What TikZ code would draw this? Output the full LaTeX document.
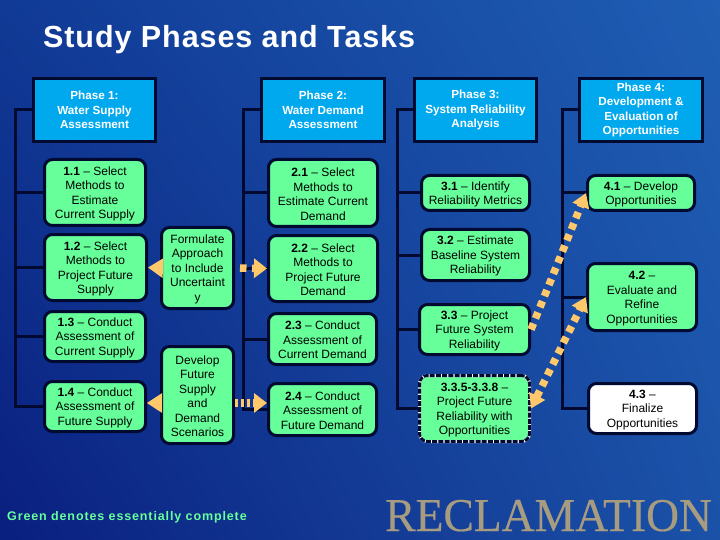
\documentclass[tikz,border=0pt]{standalone}
\usepackage{fontspec}
\setmainfont{Liberation Sans}
\newfontfamily\logofont[FakeBold=0.3]{Liberation Serif}
\newfontfamily\titlefont[LetterSpace=3]{Liberation Sans}
\newfontfamily\legendfont[LetterSpace=7]{Liberation Sans}
\usetikzlibrary{arrows.meta,shadings}
\definecolor{bgTL}{HTML}{103A95}
\definecolor{bgTR}{HTML}{1F5EB4}
\definecolor{bgBL}{HTML}{0A1F80}
\definecolor{bgBR}{HTML}{1B52A8}
\definecolor{taskgreen}{HTML}{66FF99}
\definecolor{phaseblue}{HTML}{00A8EE}
\definecolor{inkline}{HTML}{000A30}
\definecolor{linkorange}{HTML}{FFC96B}
\definecolor{logotan}{HTML}{A89C80}
\tikzset{
  anybox/.style={draw=inkline,line width=3pt,inner sep=0pt,align=center,text=black,
    font=\fontsize{12}{14.5}\selectfont},
  phasebox/.style={anybox,fill=phaseblue,text=white,
    font=\fontsize{11.7}{14.3}\selectfont\bfseries},
  taskbox/.style={anybox,fill=taskgreen,rounded corners=8pt},
  whitebox/.style={taskbox,fill=white},
  dashbox/.style={taskbox,draw=white,
    postaction={draw=inkline,line width=3pt,dash pattern=on 5pt off 1.2pt}},
  tree/.style={draw=inkline,line width=3pt},
  link/.style={draw=linkorange,line width=7.5pt,dash pattern=on 6.5pt off 5.5pt,
    -{Triangle[length=14pt,width=17pt]}},
  solidlink/.style={draw=linkorange,line width=3pt,-{Triangle[length=15pt,width=19pt]}},
  bothlink/.style={link,{Triangle[length=14pt,width=17pt]}-{Triangle[length=14pt,width=17pt]}}
}
\newcommand{\bx}[7]{%
  \pgfmathsetmacro\bxcx{(#3+#4)/2}%
  \pgfmathsetmacro\bxcy{(#5+#6)/2}%
  \pgfmathsetmacro\bxw{#4-#3-3}%
  \pgfmathsetmacro\bxh{#6-#5-3}%
  \node[#1,minimum width=\bxw pt,minimum height=\bxh pt] (#2) at (\bxcx,\bxcy) {#7};}
\newcommand{\dn}{\rule{0pt}{11pt}}
\begin{document}
\begin{tikzpicture}[x=1pt,y=-1pt]
\useasboundingbox (0,0) rectangle (720,540);
\shade[upper left=bgTL,upper right=bgTR,lower left=bgBL,lower right=bgBR] (0,0) rectangle (720,540);
\node[text=white,anchor=base west,inner sep=0pt,font=\fontsize{30.5}{30.5}\titlefont\bfseries] (title) at (43,48) {Study Phases and Tasks};
% boxes
\bx{phasebox}{p1}{32}{157}{77}{143}{Phase 1:\\Water Supply\\Assessment}
\bx{phasebox}{p2}{260}{386}{77}{143}{Phase 2:\\Water Demand\\Assessment}
\bx{phasebox}{p3}{413}{538}{77}{143}{Phase 3:\\System Reliability\\Analysis}
\bx{phasebox}{p4}{578}{704}{77}{143}{Phase 4:\\Development \&\\Evaluation of\\Opportunities}
\bx{taskbox}{t11}{43}{147}{158}{227}{\dn\textbf{1.1} -- Select\\Methods to\\Estimate\\Current Supply}
\bx{taskbox}{t12}{43}{148}{233}{302}{\dn\textbf{1.2} -- Select\\Methods to\\Project Future\\Supply}
\bx{taskbox}{t13}{43}{147}{310}{363}{\dn\textbf{1.3} -- Conduct\\Assessment of\\Current Supply}
\bx{taskbox}{t14}{43}{147}{380}{433}{\dn\textbf{1.4} -- Conduct\\Assessment of\\Future Supply}
\bx{taskbox}{fa}{160}{235}{226}{310}{\dn Formulate\\Approach\\to Include\\Uncertaint\\y}
\bx{taskbox}{df}{160}{235}{345}{445}{\dn Develop\\Future\\Supply\\and\\Demand\\Scenarios}
\bx{taskbox}{t21}{267}{379}{158}{228}{\dn\textbf{2.1} -- Select\\Methods to\\Estimate Current\\Demand}
\bx{taskbox}{t22}{267}{379}{234}{303}{\dn\textbf{2.2} -- Select\\Methods to\\Project Future\\Demand}
\bx{taskbox}{t23}{267}{378}{312}{366}{\dn\textbf{2.3} -- Conduct\\Assessment of\\Current Demand}
\bx{taskbox}{t24}{267}{378}{382}{437}{\dn\textbf{2.4} -- Conduct\\Assessment of\\Future Demand}
\bx{taskbox}{t31}{420}{531}{174}{212}{\dn\textbf{3.1} -- Identify\\Reliability Metrics}
\bx{taskbox}{t32}{420}{531}{228}{282}{\dn\textbf{3.2} -- Estimate\\Baseline System\\Reliability}
\bx{taskbox}{t33}{418}{531}{303}{356}{\dn\textbf{3.3} -- Project\\Future System\\Reliability}
\bx{dashbox}{t34}{418}{531}{374}{443}{\dn\textbf{3.3.5-3.3.8} --\\Project Future\\Reliability with\\Opportunities}
\bx{taskbox}{t41}{586}{696}{174}{212}{\dn\textbf{4.1} -- Develop\\Opportunities}
\bx{taskbox}{t42}{586}{698}{262}{332}{\dn\textbf{4.2} --\\Evaluate and\\Refine\\Opportunities}
\bx{whitebox}{t43}{587}{698}{382}{435}{\dn\textbf{4.3} --\\Finalize\\Opportunities}
% trees
\coordinate (c1) at (15,110);
\coordinate (c2) at (243,110);
\coordinate (c3) at (397,110);
\coordinate (c4) at (562,110);
\draw[tree] (p1.west) -| (c1 |- t14.west) -- (t14.west);
\draw[tree] (c1 |- t11.west) -- (t11.west);
\draw[tree] (c1 |- t12.west) -- (t12.west);
\draw[tree] (c1 |- t13.west) -- (t13.west);
\draw[tree] (p2.west) -| (c2 |- t24.west) -- (t24.west);
\draw[tree] (c2 |- t21.west) -- (t21.west);
\draw[tree] (c2 |- t22.west) -- (t22.west);
\draw[tree] (c2 |- t23.west) -- (t23.west);
\draw[tree] (p3.west) -| (c3 |- t34.west) -- (t34.west);
\draw[tree] (c3 |- t31.west) -- (t31.west);
\draw[tree] (c3 |- t32.west) -- (t32.west);
\draw[tree] (c3 |- t33.west) -- (t33.west);
\draw[tree] (p4.west) -| (c4 |- t43.west) -- (t43.west);
\draw[tree] (c4 |- t41.west) -- (t41.west);
\draw[tree] (c4 |- t42.west) -- (t42.west);
% orange links
\draw[solidlink] (fa.west) -- (t12.east);
\draw[solidlink] ([yshift=-8pt]df.west) -- ([yshift=3.5pt]t14.east);
\draw[link,dash phase=-5pt,-{Triangle[length=13pt,width=19pt]}] (fa.east) -- (t22.west);
\draw[link,dash pattern=on 3pt off 3pt,-{Triangle[length=13pt,width=19pt]}] ([yshift=-8pt]df.east) -- ([yshift=6.5pt]t24.west);
\draw[link] (t33.east) -- (t41.west);
\draw[bothlink] (t34.east) -- (t42.west);
% labels
\node[text=taskgreen,anchor=base west,inner sep=0pt,font=\fontsize{12.5}{12.5}\legendfont\bfseries] (legend) at (7,520) {Green denotes essentially complete};
\node[text=logotan,anchor=base west,inner sep=0pt,font=\fontsize{47}{47}\logofont] (logo) at (385,531) {\scalebox{0.97}[1]{RECLAMATION}};
\end{tikzpicture}
\end{document}
